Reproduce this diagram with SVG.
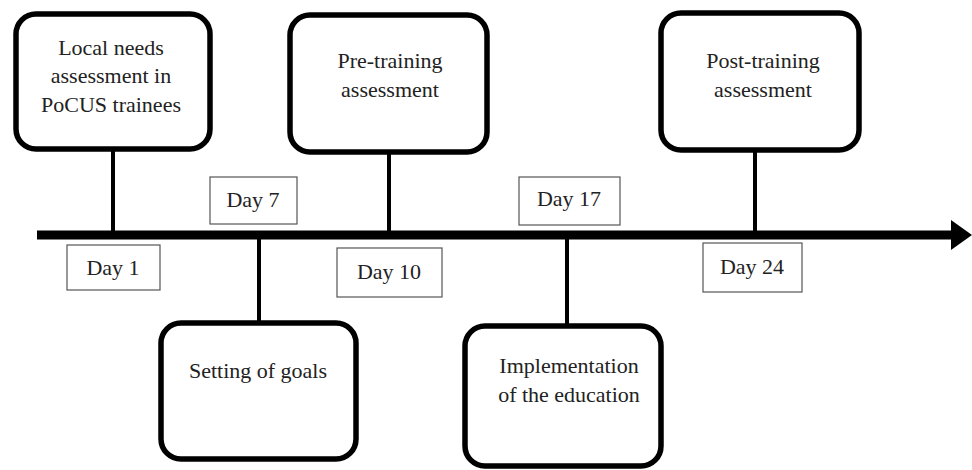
<svg xmlns="http://www.w3.org/2000/svg" width="972" height="470" viewBox="0 0 972 470">
<style>
.node{fill:#fff;stroke:#000;stroke-width:5.5}
.day{fill:#fff;stroke:#555;stroke-width:1.2}
.t{font-family:'Liberation Serif','DejaVu Serif',serif;font-size:22px;fill:#222;text-anchor:middle}
.c{stroke:#000;stroke-width:4;fill:none}
</style>
<rect width="972" height="470" fill="#fff"/>
<g id="connectors">
<line class="c" x1="113" y1="150" x2="113" y2="235"/>
<line class="c" x1="259" y1="235" x2="259" y2="322"/>
<line class="c" x1="389" y1="153" x2="389" y2="235"/>
<line class="c" x1="567" y1="235" x2="567" y2="325"/>
<line class="c" x1="755" y1="151" x2="755" y2="235"/>
</g>
<g id="timeline">
<line x1="37" y1="235" x2="954" y2="235" stroke="#000" stroke-width="9"/>
<polygon points="951,220 972,235 951,250" fill="#000"/>
</g>
<g font-family="Liberation Serif, serif">
<g id="n1">
<rect class="node" x="16" y="14" width="194" height="135" rx="20"/>
<text class="t" x="111" y="55">Local needs</text>
<text class="t" x="111" y="83">assessment in</text>
<text class="t" x="111" y="112">PoCUS trainees</text>
</g>
<g id="n2">
<rect class="node" x="161" y="323" width="195" height="136" rx="20"/>
<text class="t" x="258" y="378">Setting of goals</text>
</g>
<g id="n3">
<rect class="node" x="290" y="15" width="197" height="137" rx="20"/>
<text class="t" x="390" y="68">Pre-training</text>
<text class="t" x="390" y="97">assessment</text>
</g>
<g id="n4">
<rect class="node" x="465" y="326" width="196" height="140" rx="20"/>
<text class="t" x="569" y="373">Implementation</text>
<text class="t" x="569" y="402">of the education</text>
</g>
<g id="n5">
<rect class="node" x="661" y="13" width="198" height="137" rx="20"/>
<text class="t" x="763" y="68">Post-training</text>
<text class="t" x="763" y="97">assessment</text>
</g>
<g id="d1">
<rect class="day" x="67" y="245" width="93" height="45"/>
<text class="t" x="113" y="275">Day 1</text>
</g>
<g id="d7">
<rect class="day" x="210" y="177" width="87" height="47"/>
<text class="t" x="253" y="207">Day 7</text>
</g>
<g id="d10">
<rect class="day" x="337" y="248" width="105" height="49"/>
<text class="t" x="389" y="279">Day 10</text>
</g>
<g id="d17">
<rect class="day" x="519" y="177" width="101" height="48"/>
<text class="t" x="569" y="206">Day 17</text>
</g>
<g id="d24">
<rect class="day" x="703" y="243" width="99" height="49"/>
<text class="t" x="752" y="274">Day 24</text>
</g>
</g>
</svg>
